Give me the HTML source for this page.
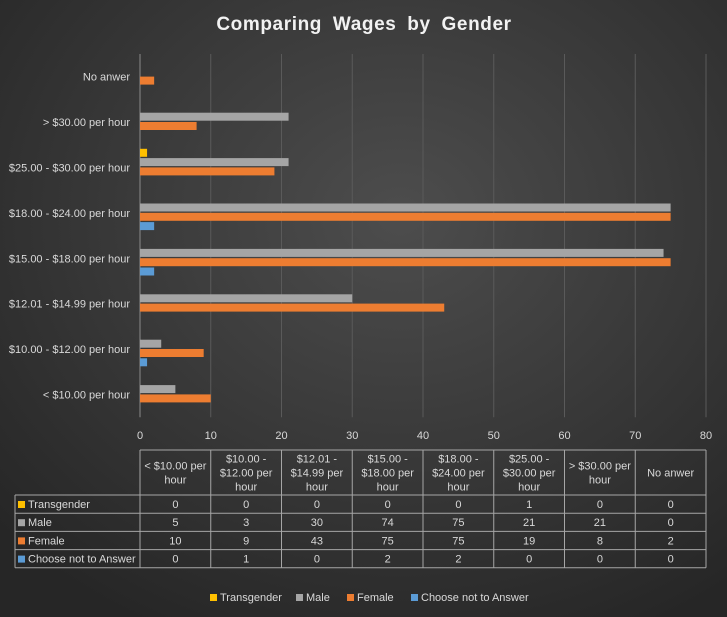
<!DOCTYPE html>
<html><head><meta charset="utf-8"><style>
body{margin:0;width:727px;height:617px;overflow:hidden;font-family:"Liberation Sans",sans-serif;}
svg{display:block}
</style></head><body>
<svg id="chart" width="727" height="617" xmlns="http://www.w3.org/2000/svg">
<defs>
<radialGradient id="bg" cx="55%" cy="35%" r="75%">
<stop offset="0" stop-color="#4d4d4d"/><stop offset="1" stop-color="#262626"/>
</radialGradient>
</defs>
<rect width="727" height="617" fill="url(#bg)"/>
<text x="364" y="30" text-anchor="middle" fill="#f2f2f2" font-size="19" font-weight="bold" letter-spacing="0.6" word-spacing="5">Comparing Wages by Gender</text>
<g id="grid"></g><g id="bars"></g><g id="axis"></g><g id="table"></g><g id="legend"></g>
</svg>
<script>
const categories=["< $10.00 per hour","$10.00 - $12.00 per hour","$12.01 - $14.99 per hour","$15.00 - $18.00 per hour","$18.00 - $24.00 per hour","$25.00 - $30.00 per hour","> $30.00 per hour","No anwer"];
const tableHeaders=[["< $10.00 per","hour"],["$10.00 -","$12.00 per","hour"],["$12.01 -","$14.99 per","hour"],["$15.00 -","$18.00 per","hour"],["$18.00 -","$24.00 per","hour"],["$25.00 -","$30.00 per","hour"],["> $30.00 per","hour"],["No anwer"]];
const seriesNames=["Transgender","Male","Female","Choose not to Answer"];
const transgender=[0,0,0,0,0,1,0,0];
const male=[5,3,30,74,75,21,21,0];
const female=[10,9,43,75,75,19,8,2];
const chooseNot=[0,1,0,2,2,0,0,0];
const ticks=[0,10,20,30,40,50,60,70,80];
const colors=["#ffc000","#a5a5a5","#ed7d31","#5b9bd5"];
const series=[transgender,male,female,chooseNot];
const NS="http://www.w3.org/2000/svg";
const x0=140,x1=706,yTop=54,band=45.4,xMax=80;
const X=v=>x0+(x1-x0)*v/xMax;
function mk(tag,attrs,parent,txt){const e=document.createElementNS(NS,tag);for(const k in attrs)e.setAttribute(k,attrs[k]);if(txt!=null)e.textContent=txt;parent.appendChild(e);return e;}
const grid=document.getElementById('grid'),bars=document.getElementById('bars'),axis=document.getElementById('axis'),table=document.getElementById('table'),legend=document.getElementById('legend');
ticks.forEach(t=>{
 const l=mk('line',{x1:X(t),x2:X(t),y1:yTop,y2:yTop+band*8,stroke:t===0?'#8a8a8a':'#5a5a5a','stroke-width':1},grid);
 
 
 const tx=mk('text',{x:X(t),y:439,'text-anchor':'middle',fill:'#d9d9d9','font-size':11},axis,t);
 
 
});
const n=categories.length;
categories.forEach((c,i)=>{
 const bandTop=yTop+(n-1-i)*band;
 const cy=bandTop+band/2;
 const lb=mk('text',{x:130,y:cy+4,'text-anchor':'end',fill:'#d9d9d9','font-size':11},axis,c);
 
 
 series.forEach((s,j)=>{
  const y=bandTop+4+j*9.3;
  const r=mk('rect',{x:x0,y:y,width:Math.max(0,X(s[i])-x0),height:8,fill:colors[j]},bars);
  
  
 });
});
const tl=15,tx0=140,cw=(706-140)/8,hTop=450,hBot=495,rh=18.2;
const line=(a,b,c,d)=>{const l=mk('line',{x1:a,y1:b,x2:c,y2:d,stroke:'#a6a6a6','stroke-width':1},table);};
const tBot=hBot+rh*4;
for(let k=0;k<=8;k++)line(tx0+k*cw,hTop,tx0+k*cw,tBot);
line(tx0,hTop,706,hTop);
line(tl,hBot,706,hBot);
for(let r=1;r<=4;r++)line(tl,hBot+r*rh,706,hBot+r*rh);
line(tl,hBot,tl,tBot);
tableHeaders.forEach((h,k)=>{
 const cx=tx0+k*cw+cw/2;const start=(hTop+hBot)/2-(h.length-1)*7+4;
 h.forEach((ln,m)=>{const t=mk('text',{x:cx,y:start+m*14,'text-anchor':'middle',fill:'#d9d9d9','font-size':11},table,ln);});
});
series.forEach((s,j)=>{
 const yy=hBot+j*rh;
 const sw=mk('rect',{x:18,y:yy+6,width:7,height:7,fill:colors[j]},table);
 
 
 const nm=mk('text',{x:28,y:yy+13,fill:'#d9d9d9','font-size':11},table,seriesNames[j]);
 
 
 s.forEach((v,k)=>{const t=mk('text',{x:tx0+k*cw+cw/2,y:yy+13,'text-anchor':'middle',fill:'#d9d9d9','font-size':11},table,v);});
});
const lx=[210,296,347,411];
seriesNames.forEach((nmv,j)=>{
 const g=mk('g',{},legend);
 
 
 mk('rect',{x:lx[j],y:594,width:7,height:7,fill:colors[j]},g);
 mk('text',{x:lx[j]+10,y:601,fill:'#d9d9d9','font-size':11},g,nmv);
});
</script>
</body></html>
